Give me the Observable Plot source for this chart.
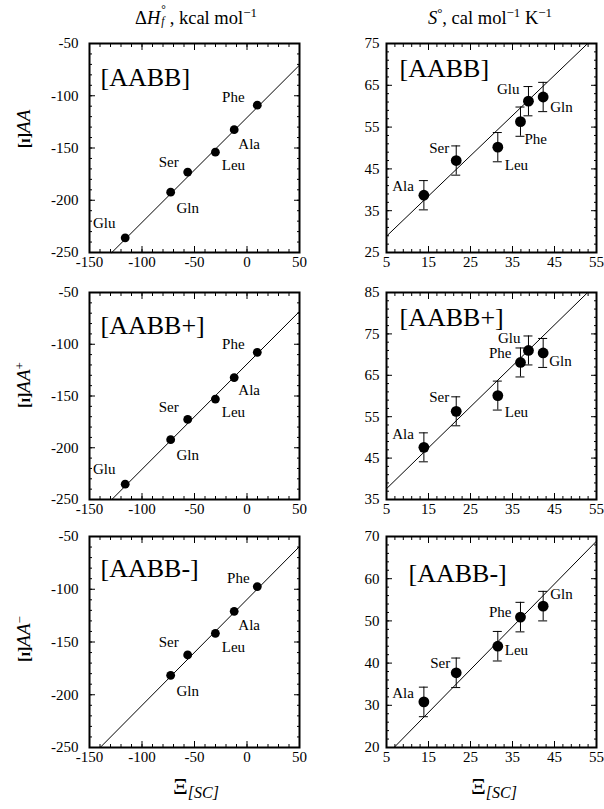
<!DOCTYPE html>
<html><head><meta charset="utf-8">
<script src="https://cdn.jsdelivr.net/npm/d3@7"></script>
<script src="https://cdn.jsdelivr.net/npm/@observablehq/plot@0.6"></script>
<style>
body{margin:0;background:#fff;}
#wrap{position:relative;width:604px;height:809px;font-family:"Liberation Serif","Times New Roman",serif;color:#000;overflow:hidden;background:#fff;}
.lbl{position:absolute;white-space:nowrap;line-height:1;}
.rot{transform:translate(-50%,-50%) rotate(-90deg);}
.ctr{transform:translate(-50%,0);}
</style></head><body><div id="wrap"></div>
<script>
// ---------- data ----------
const residues = ["Ala", "Ser", "Leu", "Phe", "Glu", "Gln"];
// Delta Hf panels: x = Xi[SC], y = Xi for AA, AA+, AA-
const xiH = [-12.2, -56.5, -30.1, 9.8, -116.0, -72.7];
const hAA = [-132.5, -173.0, -154.0, -109.0, -236.0, -192.3];
const hAAplus = [-132.2, -172.6, -153.0, -107.8, -235.2, -192.2];
const hAAminus = [-120.9, -162.3, -141.8, -97.5, null, -181.6];
// S panels
const xiS = [13.9, 21.6, 31.5, 36.9, 38.8, 42.3];
const sAA = [38.7, 47.0, 50.2, 56.3, 61.2, 62.2];
const sAAerr = [3.5, 3.5, 3.5, 3.5, 3.5, 3.5];
const sAAplus = [47.6, 56.3, 60.1, 68.1, 71.0, 70.4];
const sAAplusErr = [3.5, 3.5, 3.5, 3.5, 3.5, 3.5];
const sAAminus = [30.8, 37.7, 44.0, 50.9, null, 53.5];
const sAAminusErr = [3.5, 3.5, 3.5, 3.5, null, 3.5];
// fitted lines (end points)
const fitHx1 = [-128.7, 50], fitHy1 = [-250, -70.7];
const fitHx2 = [-128.7, 50], fitHy2 = [-250, -68.3];
const fitHx3 = [-139.8, 50], fitHy3 = [-250, -59.5];
const fitSx1 = [5, 52.9], fitSy1 = [28.9, 75];
const fitSx2 = [5, 52.9], fitSy2 = [37.6, 85];
const fitSx3 = [6.8, 55], fitSy3 = [20, 68.9];
// tick labels
const xTicksH = [-150, -100, -50, 0, 50];
const yTicksH = [-250, -200, -150, -100, -50];
const xTicksS = [5, 15, 25, 35, 45, 55];
const yTicksS1 = [25, 35, 45, 55, 65, 75];
const yTicksS2 = [35, 45, 55, 65, 75, 85];
const yTicksS3 = [20, 30, 40, 50, 60, 70];
const tags = ["[AABB]", "[AABB+]", "[AABB-]"];

// ---------- layout ----------
const FONT = '"Liberation Serif","Times New Roman",serif';
const wrap = document.getElementById("wrap");

function panel(o) {
  const mL = 55, mR = 10, mT = 10, mB = 28;
  const W = o.w + mL + mR, H = o.h + mT + mB;
  const data = residues.map((n, i) => ({name: n, x: o.xs[i], y: o.ys[i], e: o.errs ? o.errs[i] : null}))
    .filter(d => d.y != null);
  const fit = o.fitX.map((x, i) => ({x, y: o.fitY[i]}));
  const ax = (scale, anchor, ticks, size) => {
    const shift = {bottom: {dy: -size}, top: {dy: size}, left: {dx: size}, right: {dx: -size}}[anchor];
    return (scale === "x" ? Plot.axisX : Plot.axisY)({anchor, ticks, tickSize: size, fill: "none", label: null, strokeWidth: 1, ...shift});
  };
  const marks = [];
  for (const a of ["bottom", "top"]) { marks.push(ax("x", a, o.xMinor, 3)); marks.push(ax("x", a, o.xTicks, 6)); }
  for (const a of ["left", "right"]) { marks.push(ax("y", a, o.yMinor, 3)); marks.push(ax("y", a, o.yTicks, 6)); }
  marks.push(Plot.axisX({anchor: "bottom", ticks: o.xTicks, tickSize: 0, tickPadding: 4, label: null, tickFormat: d => String(d), fontSize: 15, fontFamily: FONT}));
  marks.push(Plot.axisY({anchor: "left", ticks: o.yTicks, tickSize: 0, tickPadding: o.yPad, label: null, tickFormat: d => String(d), fontSize: 15, fontFamily: FONT}));
  marks.push(Plot.line(fit, {x: "x", y: "y", stroke: "black", strokeWidth: 1}));
  if (o.errs) {
    const ed = data.filter(d => d.e != null);
    marks.push(Plot.ruleX(ed, {x: "x", y1: d => d.y - d.e, y2: d => d.y + d.e, stroke: "black", strokeWidth: 1}));
    marks.push(Plot.ruleY(ed, {y: d => d.y + d.e, x1: "x", x2: "x", insetLeft: -4.5, insetRight: -4.5, stroke: "black", strokeWidth: 1}));
    marks.push(Plot.ruleY(ed, {y: d => d.y - d.e, x1: "x", x2: "x", insetLeft: -4.5, insetRight: -4.5, stroke: "black", strokeWidth: 1}));
  }
  marks.push(Plot.dot(data, {x: "x", y: "y", r: o.r, fill: "black", stroke: null}));
  for (const d of data) {
    const p = o.place[d.name];
    marks.push(Plot.text([d], {x: "x", y: "y", text: "name", dx: p[0], dy: p[1], textAnchor: p[2] || "middle",
      fontSize: 15, fontFamily: FONT, fill: "black"}));
  }
  marks.push(Plot.text([o.tag], {frameAnchor: "top-left", text: d => d, dx: o.tagPos[0], dy: o.tagPos[1],
    textAnchor: "start", lineAnchor: "middle", fontSize: 26, fontFamily: FONT, fill: "black"}));
  marks.push(Plot.frame({stroke: "black", strokeWidth: 2}));
  const svg = Plot.plot({
    width: W, height: H, marginLeft: mL, marginRight: mR, marginTop: mT, marginBottom: mB,
    x: {domain: o.xDomain}, y: {domain: o.yDomain},
    style: {fontFamily: FONT, fontSize: "15px", background: "transparent", overflow: "visible", color: "black"},
    marks
  });
  svg.style.position = "absolute";
  svg.style.left = (o.left - mL) + "px";
  svg.style.top = (o.top - mT) + "px";
  wrap.appendChild(svg);
}

const LX = 89, RX = 386, FW = 210;
const rows = [{top: 43, h: 209}, {top: 292, h: 207}, {top: 536, h: 211}];
const hMinX = d3.range(-150, 51, 10), hMinY = d3.range(-250, -49, 10);
const sMinX = d3.range(5, 56, 2);

const placeH = [
  {Phe: [-24, -8], Ala: [15, 14], Leu: [18, 13], Ser: [-19, -10], Gln: [17, 16], Glu: [-21, -15]},
  {Phe: [-24, -8], Ala: [15, 13], Leu: [18, 13], Ser: [-19, -12], Gln: [17, 16], Glu: [-21, -15]},
  {Phe: [-19, -8], Ala: [15, 14], Leu: [18, 14], Ser: [-19, -13], Gln: [17, 16]}
];
const placeS = [
  {Ala: [-10, -9, "end"], Ser: [-7, -12, "end"], Leu: [7, 18, "start"], Phe: [4, 18, "start"], Glu: [-9, -12, "end"], Gln: [7, 10, "start"]},
  {Ala: [-10, -13, "end"], Ser: [-7, -14, "end"], Leu: [7, 17, "start"], Phe: [-9, -9, "end"], Glu: [-8, -12, "end"], Gln: [6, 8, "start"]},
  {Ala: [-10, -9, "end"], Ser: [-6, -10, "end"], Leu: [7, 4, "start"], Phe: [-9, -5, "end"], Gln: [7, -12, "start"]}
];
const hY = [hAA, hAAplus, hAAminus];
const hFit = [[fitHx1, fitHy1], [fitHx2, fitHy2], [fitHx3, fitHy3]];
const sY = [sAA, sAAplus, sAAminus];
const sErr = [sAAerr, sAAplusErr, sAAminusErr];
const sFit = [[fitSx1, fitSy1], [fitSx2, fitSy2], [fitSx3, fitSy3]];
const sYT = [yTicksS1, yTicksS2, yTicksS3];
const tagPosH = [[11, 34], [11, 33], [11, 32]];
const tagPosS = [[13, 25], [13, 25], [22, 37]];

rows.forEach((row, k) => {
  panel({left: LX, top: row.top, w: FW, h: row.h, xDomain: [-150, 50], yDomain: [-250, -50],
    xTicks: xTicksH, xMinor: hMinX, yTicks: yTicksH, yMinor: hMinY, yPad: 11,
    xs: xiH, ys: hY[k], errs: null, fitX: hFit[k][0], fitY: hFit[k][1], r: 4.4,
    place: placeH[k], tag: tags[k], tagPos: tagPosH[k]});
  const yt = sYT[k];
  panel({left: RX, top: row.top, w: FW, h: row.h, xDomain: [5, 55], yDomain: [yt[0], yt[yt.length - 1]],
    xTicks: xTicksS, xMinor: sMinX, yTicks: yt, yMinor: d3.range(yt[0], yt[yt.length - 1] + 1, 2), yPad: 7,
    xs: xiS, ys: sY[k], errs: sErr[k], fitX: sFit[k][0], fitY: sFit[k][1], r: 5.4,
    place: placeS[k], tag: tags[k], tagPos: tagPosS[k]});
});

// ---------- text around the panels ----------
function addLabel(html, x, y, cls, extra) {
  const d = document.createElement("div");
  d.className = "lbl " + cls;
  d.style.left = x + "px"; d.style.top = y + "px";
  if (extra) Object.assign(d.style, extra);
  d.innerHTML = html;
  wrap.appendChild(d);
}
// stacked superscript/subscript drawn as two separate boxes that do not overlap
const stack = (a, b) => `<span style="display:inline-block;position:relative;width:0.45em;height:1em;vertical-align:-0.15em;margin-left:1px">` +
  `<span style="position:absolute;left:0;top:-0.35em;font-size:0.62em;line-height:1">${a}</span>` +
  `<span style="position:absolute;left:0;top:0.62em;font-size:0.62em;line-height:1">${b}</span></span>`;
addLabel(`<span>&Delta;<i>H</i></span>${stack("&deg;", "<i>f</i>")}<span>, kcal mol</span><sup style="font-size:0.7em">&minus;1</sup>`, 196, 7, "ctr", {fontSize: "18.5px"});
addLabel(`<i>S</i><sup style="font-size:0.7em">&deg;</sup>, cal mol<sup style="font-size:0.7em">&minus;1</sup> K<sup style="font-size:0.7em">&minus;1</sup>`, 490, 7, "ctr", {fontSize: "18.5px"});
const ySup = ["", "+", "&minus;"];
const yCenters = [129, 385, 639];
yCenters.forEach((cy, k) => {
  addLabel(`<b style="font-size:16px">[&#618;]</b><i style="font-size:19px">AA</i>${ySup[k] ? `<sup style="font-size:13px">${ySup[k]}</sup>` : ""}`, 23, cy, "rot");
});
addLabel(`<span style="font-size:23px">&Xi;</span><sub style="font-size:16px"><i>[SC]</i></sub>`, 196, 775, "ctr");
addLabel(`<span style="font-size:23px">&Xi;</span><sub style="font-size:16px"><i>[SC]</i></sub>`, 494, 775, "ctr");
</script></body></html>
